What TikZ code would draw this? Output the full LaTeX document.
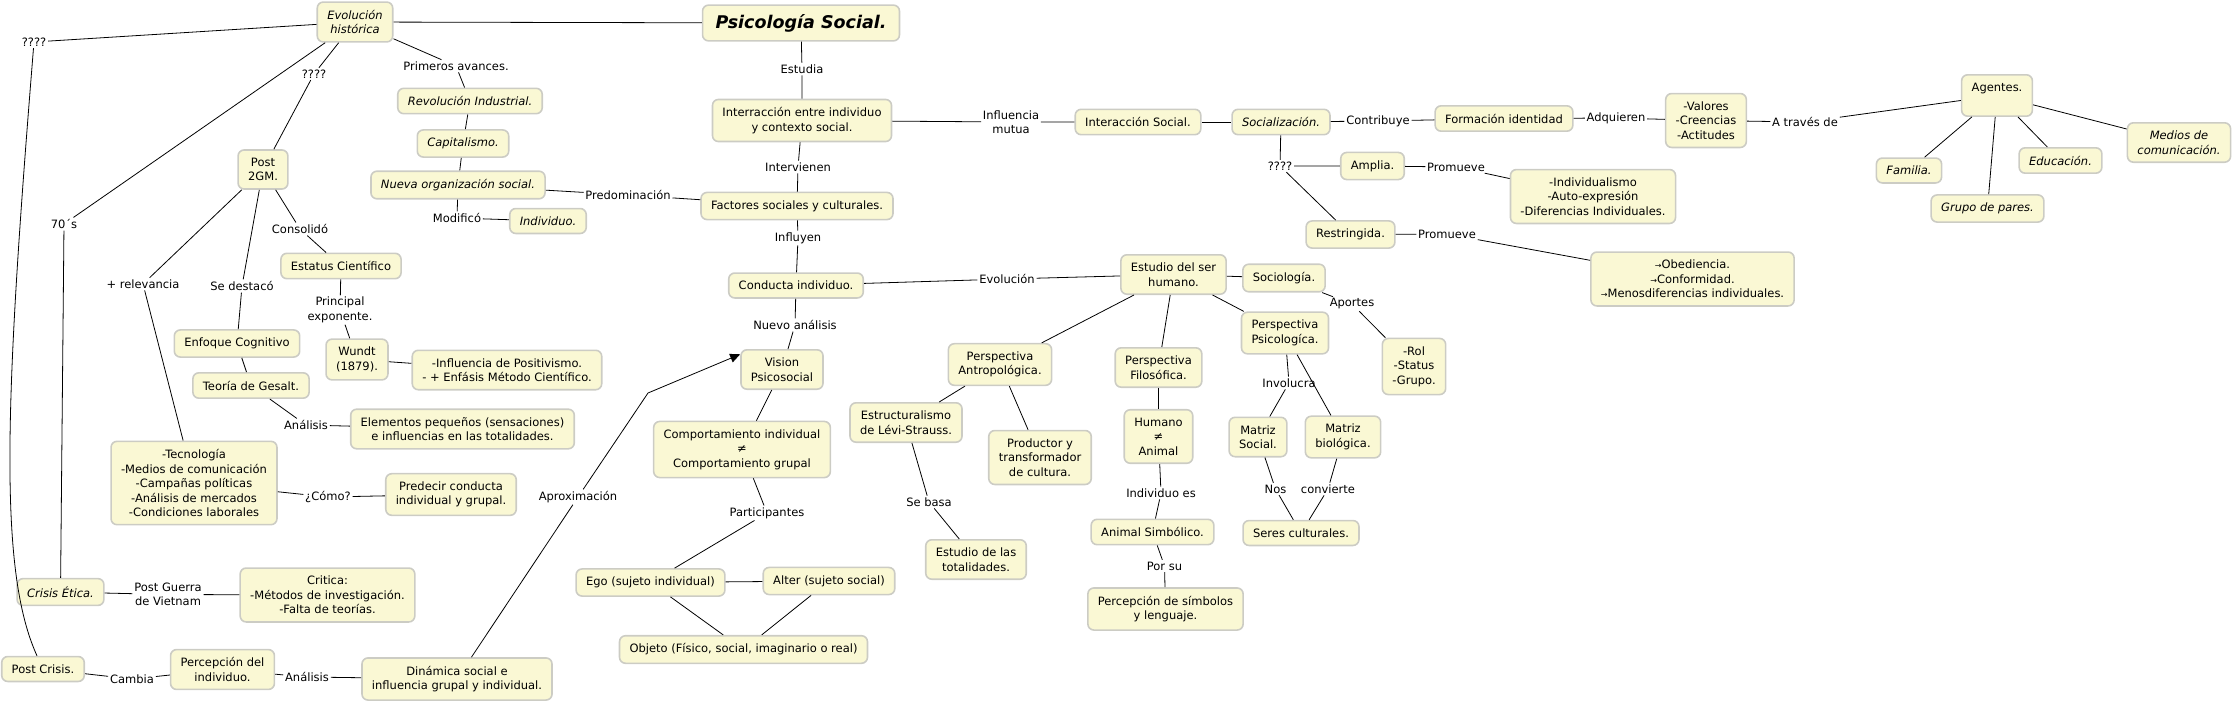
\documentclass[tikz,border=0pt]{standalone}
\usepackage{fontspec}
\setmainfont{DejaVu Sans}
\usepackage{tikz}
\usetikzlibrary{arrows.meta}

\definecolor{cmapfill}{RGB}{250,248,212}
\definecolor{cmapedge}{RGB}{204,204,196}
\newcommand{\smarrow}{{\fontsize{8}{14.5}\selectfont →}}

\begin{document}
\begin{tikzpicture}[
        x=1pt, y=-1pt,
        line width=0.8pt,
        >={Triangle[length=10pt,width=9pt]},
        font=\fontsize{11.5}{14.5}\selectfont,
        box/.style={draw=cmapedge, line width=1.6pt, rounded corners=6pt, fill=cmapfill, align=center, inner xsep=10pt, inner ysep=8pt},
        ibox/.style={box, font=\fontsize{11.5}{14.5}\selectfont\itshape},
        titlebox/.style={box, font=\fontsize{17.5}{20}\selectfont\bfseries\itshape, inner xsep=13pt, inner ysep=9pt},
        link/.style={align=center, inner sep=1.5pt}
      ]
      \useasboundingbox (0,0) rectangle (2235,704);

      % --- Nodes: history branch ---
      \node[ibox] (evo) at (355,22) {Evolución\\histórica};
      \node[link] (qa) at (34,42) {????};
      \node[link] (setenta) at (64,224) {70´s};
      \node[link] (qb) at (314,74) {????};
      \node[link] (primeros) at (456,66) {Primeros avances.};
      \node[ibox] (revol) at (470,101) {Revolución Industrial.};
      \node[ibox] (capital) at (463,143.5) {Capitalismo.};
      \node[ibox] (nueva) at (458,185) {Nueva organización social.};
      \node[link] (modifico) at (457,218) {Modificó};
      \node[ibox] (indiv) at (548,221) {Individuo.};
      \node[link] (predom) at (628,195) {Predominación};

      \node[box] (post2gm) at (263,169.5) {Post\\2GM.};
      \node[link] (consolido) at (300,229) {Consolidó};
      \node[box] (estatus) at (341,266) {Estatus Científico};
      \node[link] (principal) at (340,310) {Principal\\exponente.};
      \node[box] (wundt) at (357,359.5) {Wundt\\(1879).};
      \node[box] (positiv) at (507,370) {-Influencia de Positivismo.\\- + Enfásis Método Científico.};
      \node[link] (destaco) at (242,286) {Se destacó};
      \node[box] (enfoque) at (237,343.5) {Enfoque Cognitivo};
      \node[box] (gesalt) at (251,385.5) {Teoría de Gesalt.};
      \node[link] (analisisg) at (306,425) {Análisis};
      \node[box] (elementos) at (462.5,429) {Elementos pequeños (sensaciones)\\e influencias en las totalidades.};
      \node[link] (relev) at (143,284) {+ relevancia};
      \node[box] (tecno) at (194,483) {-Tecnología\\-Medios de comunicación\\-Campañas políticas\\-Análisis de mercados\\-Condiciones laborales};
      \node[link] (como) at (328,497) {¿Cómo?};
      \node[box] (predecir) at (451,494.5) {Predecir conducta\\individual y grupal.};

      \node[ibox] (crisis) at (60.5,592) {Crisis Ética.};
      \node[link] (postguerra) at (168,594.5) {Post Guerra\\de Vietnam};
      \node[box] (critica) at (327.5,595) {Critica:\\-Métodos de investigación.\\-Falta de teorías.};
      \node[box] (postcrisis) at (43,669) {Post Crisis.};
      \node[link] (cambia) at (132,679) {Cambia};
      \node[box] (percind) at (222.5,669.5) {Percepción del\\individuo.};
      \node[link] (analisisd) at (307,677) {Análisis};
      \node[box] (dinamica) at (457,679) {Dinámica social e\\influencia grupal y individual.};
      \node[link] (aprox) at (578,497) {Aproximación};
      \coordinate (aproxbend) at (648,393);

      % --- Nodes: centre column ---
      \node[titlebox] (psico) at (801,23) {Psicología Social.};
      \node[link] (estudia) at (802,69) {Estudia};
      \node[box] (interr) at (802,120.5) {Interracción entre individuo\\y contexto social.};
      \node[link] (interv) at (798,167) {Intervienen};
      \node[box] (factores) at (797,206) {Factores sociales y culturales.};
      \node[link] (influyen) at (798,238) {Influyen};
      \node[box] (conducta) at (796,285.5) {Conducta individuo.};
      \node[link] (nuevo) at (795,325) {Nuevo análisis};
      \node[box] (vision) at (782,369.5) {Vision\\Psicosocial};
      \node[box] (comport) at (742,449.5) {Comportamiento individual\\≠\\Comportamiento grupal};
      \node[link] (particip) at (767,513) {Participantes};
      \node[box] (ego) at (650.5,582.5) {Ego (sujeto individual)};
      \node[box] (alter) at (829,581) {Alter (sujeto social)};
      \node[box] (objeto) at (743.5,649.5) {Objeto (Físico, social, imaginario o real)};

      % --- Nodes: socialization branch ---
      \node[link] (influm) at (1011,122) {Influencia\\mutua};
      \node[box] (intsocial) at (1138,122) {Interacción Social.};
      \node[ibox] (socializ) at (1281,122) {Socialización.};
      \node[link] (contrib) at (1378,121) {Contribuye};
      \node[box] (formacion) at (1504,118.5) {Formación identidad};
      \node[link] (adquieren) at (1616,118) {Adquieren};
      \node[box] (valores) at (1706,120.5) {-Valores\\-Creencias\\-Actitudes};
      \node[link] (traves) at (1805,122) {A través de};
      \node[box, text depth=17pt] (agentes) at (1997,95.5) {Agentes.};
      \node[ibox] (familia) at (1909,170.5) {Familia.};
      \node[ibox] (grupo) at (1987.5,208.5) {Grupo de pares.};
      \node[ibox] (educ) at (2060.5,160.5) {Educación.};
      \node[ibox] (medios) at (2179,142.5) {Medios de\\comunicación.};
      \node[link] (qc) at (1280,166) {????};
      \node[box] (amplia) at (1372.5,166) {Amplia.};
      \node[link] (proma) at (1456,167) {Promueve};
      \node[box] (individual) at (1593,196.5) {-Individualismo\\-Auto-expresión\\-Diferencias Individuales.};
      \node[box] (restring) at (1350.5,234.5) {Restringida.};
      \node[link] (promr) at (1447,234) {Promueve};
      \node[box] (obed) at (1692.5,279) {\smarrow Obediencia.\\\smarrow Conformidad.\\\smarrow Menosdiferencias individuales.};

      % --- Nodes: study of the human being ---
      \node[link] (evolucion) at (1007,279) {Evolución};
      \node[box] (estudio) at (1173.5,274.5) {Estudio del ser\\humano.};
      \node[box] (socio) at (1284,278) {Sociología.};
      \node[link] (aportes) at (1352,304) {Aportes};
      \node[box] (rol) at (1414,366.5) {-Rol\\-Status\\-Grupo.};
      \node[box] (antrop) at (1000,364.5) {Perspectiva\\Antropológica.};
      \node[box] (estruct) at (906,422.5) {Estructuralismo\\de Lévi-Strauss.};
      \node[box] (productor) at (1040,457.5) {Productor y\\transformador\\de cultura.};
      \node[link] (sebasa) at (929,502) {Se basa};
      \node[box] (totalid) at (976,559.5) {Estudio de las\\totalidades.};
      \node[box] (filos) at (1158.5,367.5) {Perspectiva\\Filosófica.};
      \node[box] (humano) at (1158.5,436.5) {Humano\\≠\\Animal};
      \node[link] (indes) at (1161,493) {Individuo es};
      \node[box] (animal) at (1152.5,532) {Animal Simbólico.};
      \node[link] (porsu) at (1164.5,566) {Por su};
      \node[box] (simbolos) at (1165.5,609) {Percepción de símbolos\\y lenguaje.};
      \node[box] (psicol) at (1285,333) {Perspectiva\\Psicologíca.};
      \node[link] (involucra) at (1289,383) {Involucra};
      \node[box] (msocial) at (1258,437) {Matriz\\Social.};
      \node[box] (mbiol) at (1343,437) {Matriz\\biológica.};
      \node[link] (nos) at (1275.5,489) {Nos};
      \node[link] (convierte) at (1328,489) {convierte};
      \node[box] (seres) at (1301,533) {Seres culturales.};

      % --- Connectors ---
      \draw (evo) -- (qa);
      \draw (qa) .. controls (5,400) and (-2,570) .. (postcrisis);
      \draw (evo) -- (setenta) -- (crisis);
      \draw (evo) -- (qb) -- (post2gm);
      \draw (evo) -- (psico);
      \draw (evo) -- (primeros) -- (revol);
      \draw (revol) -- (capital) -- (nueva);
      \draw (nueva) -- (modifico) -- (indiv);
      \draw (nueva) -- (predom) -- (factores);
      \draw (post2gm) -- (relev) -- (tecno);
      \draw (post2gm) -- (destaco) -- (enfoque);
      \draw (post2gm) -- (consolido) -- (estatus);
      \draw (estatus) -- (principal) -- (wundt);
      \draw (wundt) -- (positiv);
      \draw (enfoque) -- (gesalt);
      \draw (gesalt) -- (analisisg) -- (elementos);
      \draw (tecno) -- (como) -- (predecir);
      \draw (crisis) -- (postguerra) -- (critica);
      \draw (postcrisis) -- (cambia) -- (percind);
      \draw (percind) -- (analisisd) -- (dinamica);
      \draw (dinamica) -- (aprox);
      \draw[->] (aprox) -- (aproxbend) -- (vision.160);

      \draw (psico) -- (estudia) -- (interr);
      \draw (interr) -- (influm) -- (intsocial);
      \draw (interr) -- (interv) -- (factores);
      \draw (factores) -- (influyen) -- (conducta);
      \draw (conducta) -- (evolucion) -- (estudio);
      \draw (conducta) -- (nuevo) -- (vision);
      \draw (vision) -- (comport);
      \draw (comport) -- (particip) -- (ego);
      \draw (ego) -- (alter);
      \draw (ego) -- (objeto);
      \draw (alter) -- (objeto);

      \draw (intsocial) -- (socializ);
      \draw (socializ) -- (contrib) -- (formacion);
      \draw (formacion) -- (adquieren) -- (valores);
      \draw (valores) -- (traves) -- (agentes);
      \draw (agentes) -- (familia);
      \draw (agentes) -- (grupo);
      \draw (agentes) -- (educ);
      \draw (agentes) -- (medios);
      \draw (socializ) -- (qc) -- (amplia);
      \draw (qc) -- (restring);
      \draw (amplia) -- (proma) -- (individual);
      \draw (restring) -- (promr) -- (obed);

      \draw (estudio) -- (socio);
      \draw (socio) -- (aportes) -- (rol);
      \draw (estudio) -- (psicol);
      \draw (estudio) -- (filos);
      \draw (estudio) -- (antrop);
      \draw (antrop) -- (estruct);
      \draw (antrop) -- (productor);
      \draw (estruct) -- (sebasa) -- (totalid);
      \draw (filos) -- (humano);
      \draw (humano) -- (indes) -- (animal);
      \draw (animal) -- (porsu) -- (simbolos);
      \draw (psicol) -- (involucra) -- (msocial);
      \draw (psicol) -- (mbiol);
      \draw (msocial) -- (nos) -- (seres);
      \draw (mbiol) -- (convierte) -- (seres);

    \end{tikzpicture}
\end{document}
